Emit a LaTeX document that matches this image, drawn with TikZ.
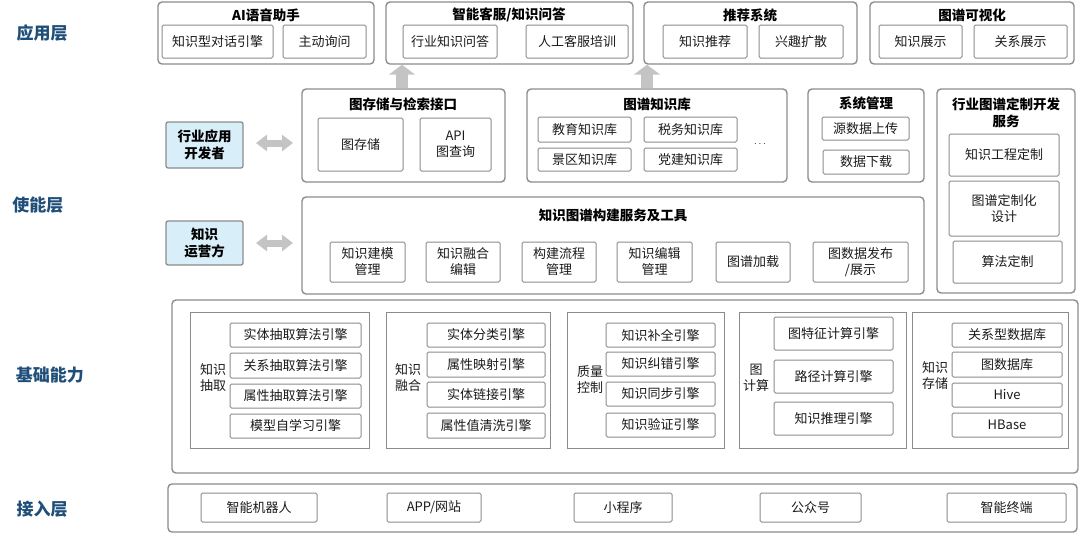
\documentclass[tikz,border=0pt]{standalone}
\usepackage{fontspec}
\setmainfont{Noto Sans CJK SC}
\usetikzlibrary{arrows.meta}
\definecolor{bd}{HTML}{8C8C8C}
\definecolor{lay}{HTML}{1F4E79}
\definecolor{rolefill}{HTML}{D8EEF8}
\definecolor{arr}{HTML}{C4C4C4}
\definecolor{txt}{HTML}{1A1A1A}
\newcommand\bx[7][]{\node[inner sep=0pt, minimum width={#5-#3}, minimum height={#6-#4}, #1] (#2) at ({(#3+#5)/2},{(#4+#6)/2}) {#7};}
\tikzset{
  outer/.style={draw=bd, line width=1.4pt, rounded corners=4pt},
  inner/.style={draw=bd, line width=1pt, rounded corners=1.5pt, align=center, text=txt, font=\fontsize{13}{16}\selectfont},
  grp/.style={draw=bd, line width=1pt},
  glabel/.style={align=center, text=txt, font=\fontsize{13}{16}\selectfont},
  title/.style={align=center, text=black, font=\fontsize{13.5}{17}\selectfont\bfseries},
  layer/.style={text=lay, font=\fontsize{17}{19}\selectfont\bfseries},
  role/.style={draw=bd, fill=rolefill, line width=1.3pt, rounded corners=2pt, align=center, font=\fontsize{13.5}{17}\selectfont\bfseries},
  bigup/.style={draw=arr, line width=12pt, -{Triangle[width=26pt,length=10pt]}},
  dblarr/.style={draw=arr, line width=7pt, {Triangle[width=16pt,length=11pt]}-{Triangle[width=16pt,length=11pt]}},
}
\begin{document}
\begin{tikzpicture}[x=1pt,y=-1pt]
\useasboundingbox (0,0) rectangle (1080,533);
% layer labels
\node[layer] (L1) at (42,33) {应用层};
\node[layer] (L2) at (38,205) {使能层};
\node[layer] (L3) at (50,375) {基础能力};
\node[layer] (L4) at (42,509) {接入层};
% application layer
\bx[outer]{app1}{158}{2}{374}{64}{}
\node[title] (app1t) at (266,15) {AI语音助手};
\bx[inner]{app1a}{162}{25}{273}{58}{知识型对话引擎}
\bx[inner]{app1b}{283}{25}{366}{58}{主动询问}
\bx[outer]{app2}{386}{2}{633}{64}{}
\node[title] (app2t) at (509,15) {智能客服/知识问答};
\bx[inner]{app2a}{403}{25}{497}{58}{行业知识问答}
\bx[inner]{app2b}{526}{25}{628}{58}{人工客服培训}
\bx[outer]{app3}{644}{2}{857}{64}{}
\node[title] (app3t) at (750,15) {推荐系统};
\bx[inner]{app3a}{663}{25}{747}{58}{知识推荐}
\bx[inner]{app3b}{759}{25}{843}{58}{兴趣扩散}
\bx[outer]{app4}{870}{2}{1074}{64}{}
\node[title] (app4t) at (972,15) {图谱可视化};
\bx[inner]{app4a}{879}{25}{962}{58}{知识展示}
\bx[inner]{app4b}{974}{25}{1067}{58}{关系展示}
% enabling layer
\bx[outer]{st}{302}{89}{505}{182}{}
\node[title] (stt) at (403,104) {图存储与检索接口};
\bx[inner]{sta}{318}{118}{403}{171}{图存储}
\bx[inner]{stb}{420}{118}{491}{171}{API\\图查询}
\bx[outer]{kb}{527}{89}{787}{182}{}
\node[title] (kbt) at (657,104) {图谱知识库};
\bx[inner]{kba}{538}{117}{631}{142}{教育知识库}
\bx[inner]{kbb}{538}{148}{631}{171}{景区知识库}
\bx[inner]{kbc}{644}{117}{737}{142}{税务知识库}
\bx[inner]{kbd}{644}{148}{737}{171}{党建知识库}
\node[text=txt] (kbdots) at (760,144) {$\cdots$};
\bx[outer]{sys}{808}{89}{924}{182}{}
\node[title] (syst) at (866,103) {系统管理};
\bx[inner]{sysa}{822}{117}{909}{140}{源数据上传}
\bx[inner]{sysb}{823}{150}{909}{174}{数据下载}
\bx[outer]{cus}{937}{89}{1075}{293}{}
\node[title] (cust) at (1006,113) {行业图谱定制开发\\服务};
\bx[inner]{cusa}{949}{134}{1059}{176}{知识工程定制}
\bx[inner]{cusb}{949}{181}{1059}{236}{图谱定制化\\设计}
\bx[inner]{cusc}{953}{241}{1062}{283}{算法定制}
\bx[outer]{tool}{302}{197}{924}{294}{}
\node[title] (toolt) at (613,215) {知识图谱构建服务及工具};
\bx[inner]{toola}{330}{242}{405}{282}{知识建模\\管理}
\bx[inner]{toolb}{426}{242}{500}{282}{知识融合\\编辑}
\bx[inner]{toolc}{522}{242}{596}{282}{构建流程\\管理}
\bx[inner]{toold}{617}{242}{692}{282}{知识编辑\\管理}
\bx[inner]{toole}{716}{242}{790}{282}{图谱加载}
\bx[inner]{toolf}{813}{242}{908}{282}{图数据发布\\/展示}
% roles
\bx[role]{dev}{166}{122}{243}{168}{行业应用\\开发者}
\bx[role]{ops}{166}{221}{243}{265}{知识\\运营方}
\coordinate (d1a) at (256,143);
\coordinate (d1b) at (293,143);
\coordinate (d2a) at (256,243);
\coordinate (d2b) at (293,243);
\draw[dblarr] (d1a) -- (d1b);
\draw[dblarr] (d2a) -- (d2b);
% up arrows
\coordinate (u1) at (402,88);
\coordinate (u2) at (647,88);
\draw[bigup] (u1) -- (u1 |- app2.south);
\draw[bigup] (u2) -- (u2 |- app3.south);
% base layer
\bx[outer]{base}{172}{300}{1078}{473}{}
\bx[grp]{g1}{190}{312}{369}{448}{}
\node[glabel] (g1t) at (213,378) {知识\\抽取};
\bx[inner]{g1a}{230}{323}{361}{347}{实体抽取算法引擎}
\bx[inner]{g1b}{230}{353}{361}{378}{关系抽取算法引擎}
\bx[inner]{g1c}{230}{384}{361}{408}{属性抽取算法引擎}
\bx[inner]{g1d}{230}{414}{361}{438}{模型自学习引擎}
\bx[grp]{g2}{386}{312}{550}{448}{}
\node[glabel] (g2t) at (408,378) {知识\\融合};
\bx[inner]{g2a}{427}{323}{545}{347}{实体分类引擎}
\bx[inner]{g2b}{427}{352}{545}{377}{属性映射引擎}
\bx[inner]{g2c}{427}{382}{545}{407}{实体链接引擎}
\bx[inner]{g2d}{427}{413}{545}{438}{属性值清洗引擎}
\bx[grp]{g3}{567}{312}{724}{448}{}
\node[glabel] (g3t) at (590,380) {质量\\控制};
\bx[inner]{g3a}{606}{323}{715}{347}{知识补全引擎}
\bx[inner]{g3b}{606}{352}{715}{376}{知识纠错引擎}
\bx[inner]{g3c}{606}{382}{715}{406}{知识同步引擎}
\bx[inner]{g3d}{606}{413}{715}{437}{知识验证引擎}
\bx[grp]{g4}{739}{312}{906}{448}{}
\node[glabel] (g4t) at (756,378) {图\\计算};
\bx[inner]{g4a}{774}{317}{893}{350}{图特征计算引擎}
\bx[inner]{g4b}{774}{360}{893}{393}{路径计算引擎}
\bx[inner]{g4c}{774}{402}{893}{435}{知识推理引擎}
\bx[grp]{g5}{912}{312}{1068}{448}{}
\node[glabel] (g5t) at (935,376) {知识\\存储};
\bx[inner]{g5a}{952}{323}{1062}{347}{关系型数据库}
\bx[inner]{g5b}{952}{352}{1062}{377}{图数据库}
\bx[inner]{g5c}{952}{383}{1062}{407}{Hive}
\bx[inner]{g5d}{952}{413}{1062}{437}{HBase}
% access layer
\bx[outer]{acc}{168}{484}{1077}{532}{}
\bx[inner]{acca}{201}{493}{317}{522}{智能机器人}
\bx[inner]{accb}{387}{493}{481}{522}{APP/网站}
\bx[inner]{accc}{574}{493}{672}{522}{小程序}
\bx[inner]{accd}{760}{493}{861}{522}{公众号}
\bx[inner]{acce}{947}{493}{1066}{522}{智能终端}
\end{tikzpicture}
\end{document}
